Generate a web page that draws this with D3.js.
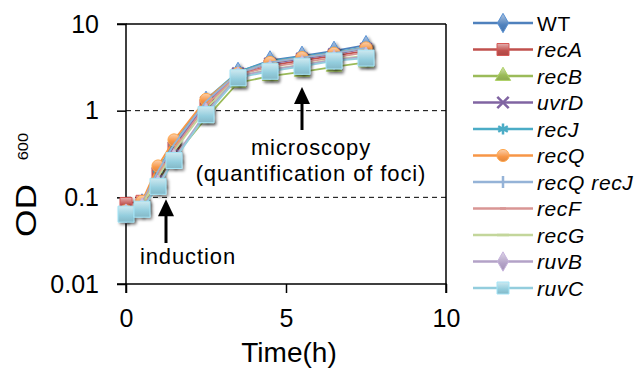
<!DOCTYPE html>
<meta charset="utf-8">
<style>
body { margin: 0; background: #fff; }
text { font-family: "Liberation Sans", Arial, sans-serif; fill: #000; }
.tick text { font-size: 25px; }
.leg { font-size: 21px; letter-spacing: 0.6px; }
.note { font-size: 22px; letter-spacing: 0.9px; }
</style>
<body>
<div id="chart"></div>
<script src="https://d3js.org/d3.v7.min.js"></script>
<script>
var times = [0, 0.5, 1, 1.5, 2.5, 3.5, 4.5, 5.5, 6.5, 7.5];
var names = ["WT", "recA", "recB", "uvrD", "recJ", "recQ", "recQ recJ", "recF", "recG", "ruvB", "ruvC"];
var colors = ["#4F81BD", "#C0504D", "#9BBB59", "#8064A2", "#4BACC6", "#F79646", "#95B3D7", "#D99694", "#C3D69B", "#B3A2C7", "#93CDDD"];
var markers = ["diamond", "square", "triangle", "x", "star", "circle", "plus", "dash", "longdash", "diamond", "square"];

var WT = [0.068, 0.085, 0.20, 0.40, 1.30, 2.8, 3.8, 4.3, 4.9, 5.7];
var recA = [0.085, 0.090, 0.19, 0.37, 1.15, 2.6, 3.3, 3.8, 4.3, 4.9];
var recB = [0.062, 0.076, 0.15, 0.29, 0.82, 2.1, 2.5, 2.8, 3.2, 3.6];
var uvrD = [0.067, 0.084, 0.19, 0.38, 1.25, 2.7, 3.5, 4.0, 4.5, 5.2];
var recJ = [0.068, 0.087, 0.21, 0.42, 1.35, 2.8, 3.7, 4.2, 4.7, 5.4];
var recQ = [0.070, 0.090, 0.23, 0.46, 1.35, 2.7, 3.6, 4.1, 4.6, 5.3];
var recQrecJ = [0.067, 0.086, 0.20, 0.41, 1.28, 2.7, 3.6, 4.1, 4.6, 5.3];
var recF = [0.070, 0.084, 0.18, 0.36, 1.15, 2.6, 3.2, 3.6, 4.1, 4.7];
var recG = [0.066, 0.082, 0.17, 0.34, 1.05, 2.5, 3.0, 3.4, 3.9, 4.3];
var ruvB = [0.065, 0.076, 0.14, 0.28, 0.95, 2.5, 2.95, 3.35, 3.85, 4.2];
var ruvC = [0.064, 0.073, 0.134, 0.266, 0.90, 2.4, 2.85, 3.25, 3.75, 4.05];
var seriesValues = [WT, recA, recB, uvrD, recJ, recQ, recQrecJ, recF, recG, ruvB, ruvC];

var yTicks = [0.01, 0.1, 1, 10];
var xTicks = [0, 5, 10];

var width = 639, height = 369;
var pLeft = 126, pRight = 446, pTop = 24, pBottom = 284;

var svg = d3.select("#chart").append("svg")
    .attr("width", width)
    .attr("height", height);

var defs = svg.append("defs");
var shadow = defs.append("filter").attr("id", "shadow")
    .attr("x", "-50%").attr("y", "-50%").attr("width", "200%").attr("height", "200%");
shadow.append("feDropShadow")
    .attr("dx", 2).attr("dy", 2).attr("stdDeviation", 1.6)
    .attr("flood-color", "#000").attr("flood-opacity", 0.45);

colors.forEach(function(c, i) {
  var g = defs.append("linearGradient").attr("id", "grad" + i)
      .attr("x1", 0).attr("y1", 0).attr("x2", 0).attr("y2", 1);
  g.append("stop").attr("offset", "0%").attr("stop-color", d3.interpolateRgb(c, "#fff")(0.55));
  g.append("stop").attr("offset", "60%").attr("stop-color", c);
  g.append("stop").attr("offset", "100%").attr("stop-color", d3.color(c).darker(0.3));
});

var x = d3.scaleLinear().domain([0, 10]).range([pLeft, pRight]);
var y = d3.scaleLog().domain([0.01, 10]).range([pBottom, pTop]);

// dashed gridlines
svg.append("g").selectAll("line")
  .data([0.1, 1]).enter().append("line")
    .attr("x1", pLeft).attr("x2", pRight)
    .attr("y1", function(d) { return y(d); })
    .attr("y2", function(d) { return y(d); })
    .attr("stroke", "#000").attr("stroke-width", 1)
    .attr("stroke-dasharray", "5,4");

// box: top and right
svg.append("line").attr("x1", pLeft).attr("x2", pRight).attr("y1", pTop).attr("y2", pTop)
    .attr("stroke", "#000").attr("stroke-width", 1.5);
svg.append("line").attr("x1", pRight).attr("x2", pRight).attr("y1", pTop).attr("y2", pBottom)
    .attr("stroke", "#000").attr("stroke-width", 1.5);

var yAxis = svg.append("g")
    .attr("transform", "translate(" + pLeft + ",0)")
    .call(d3.axisLeft(y).tickValues(yTicks).tickSize(9).tickPadding(18)
      .tickFormat(function(d) { return String(d); }));

var xAxis = svg.append("g")
    .attr("transform", "translate(0," + pBottom + ")")
    .call(d3.axisBottom(x).tickValues(xTicks).tickSize(9).tickPadding(16)
      .tickFormat(function(d) { return String(d); }));

[yAxis, xAxis].forEach(function(a) {
  a.select(".domain").attr("stroke-width", 1.5);
  a.selectAll(".tick line").attr("stroke-width", 1.5);
  a.selectAll(".tick text").attr("font-family", null).attr("font-size", null);
});
yAxis.select(".domain").attr("d", "M-9," + pTop + "H0V" + pBottom + "H-9");
xAxis.select(".domain").attr("d", "M" + pLeft + ",9V0H" + pRight + "V9");

// axis titles
svg.append("text")
    .attr("x", x(5) + 3).attr("y", 362)
    .attr("text-anchor", "middle")
    .style("font-size", "28px")
    .text("Time(h)");

var od = svg.append("text")
    .attr("transform", "translate(36,237) rotate(-90) scale(1.18,1)");
od.append("tspan").style("font-size", "30px").text("OD");
od.append("tspan").style("font-size", "14px").attr("dx", 20).attr("dy", -8).text("600");

// marker shapes
function markerPath(type, s) {
  switch (type) {
    case "diamond": return d3.symbol(d3.symbolDiamond, s * s * 0.75)();
    case "square": return d3.symbol(d3.symbolSquare, s * s)();
    case "triangle": return d3.symbol(d3.symbolTriangle, s * s * 0.7)();
    case "circle": return d3.symbol(d3.symbolCircle, s * s * 0.8)();
    case "x": return d3.symbol(d3.symbolX, s * s * 0.6)();
    case "star": return d3.symbol(d3.symbolAsterisk, s * s * 0.6)();
    case "plus": return "M0," + (-s / 2) + "V" + (s / 2);
    case "dash": return "M" + (-s / 4) + ",0H" + (s / 4);
    case "longdash": return "M" + (-s / 2) + ",0H" + (s / 2);
  }
}
function isStroke(type) {
  return type === "x" || type === "star" || type === "plus" || type === "dash" || type === "longdash";
}

var line = d3.line()
    .x(function(d) { return x(d.t); })
    .y(function(d) { return y(d.v); });

var series = names.map(function(n, i) {
  return {
    name: n, color: colors[i], marker: markers[i], idx: i,
    points: times.map(function(t, j) { return { t: t, v: seriesValues[i][j] }; })
  };
});

var sg = svg.append("g").selectAll("g.series")
  .data(series).enter().append("g").attr("class", "series");

sg.append("path")
    .attr("d", function(d) { return line(d.points); })
    .attr("fill", "none")
    .attr("stroke", function(d) { return d.color; })
    .attr("stroke-width", 1.8);

sg.each(function(s) {
  var size = s.name === "ruvC" ? 16 : 12;
  d3.select(this).selectAll("path.m")
    .data(s.points).enter().append("path")
      .attr("class", "m")
      .attr("transform", function(d) { return "translate(" + x(d.t) + "," + y(d.v) + ")"; })
      .attr("d", markerPath(s.marker, size))
      .attr("fill", isStroke(s.marker) ? "none" : "url(#grad" + s.idx + ")")
      .attr("stroke", isStroke(s.marker) ? s.color : d3.color(s.color).brighter(0.3))
      .attr("stroke-width", isStroke(s.marker) ? 2.2 : 1)
      .attr("filter", "url(#shadow)");
});

// annotations
function arrow(cx, tipY, baseY) {
  svg.append("line").attr("x1", cx).attr("x2", cx).attr("y1", tipY + 14).attr("y2", baseY)
      .attr("stroke", "#000").attr("stroke-width", 3);
  svg.append("path")
      .attr("d", "M" + cx + "," + tipY + "L" + (cx - 8) + "," + (tipY + 17) + "L" + (cx + 8) + "," + (tipY + 17) + "Z")
      .attr("fill", "#000");
}
arrow(x(1.25), y(0.1) + 2, 243);
arrow(x(5.5), 87, 130);

svg.append("text").attr("class", "note").attr("x", 188).attr("y", 264)
    .attr("text-anchor", "middle").text("induction");
svg.append("text").attr("class", "note").attr("x", 311).attr("y", 155)
    .attr("text-anchor", "middle").text("microscopy");
svg.append("text").attr("class", "note").attr("x", 311).attr("y", 181)
    .attr("text-anchor", "middle").text("(quantification of foci)");

// legend
var lg = svg.append("g").selectAll("g.legend")
  .data(series).enter().append("g")
    .attr("class", "legend")
    .attr("transform", function(d, i) { return "translate(0," + (23 + i * 26.5) + ")"; });

lg.append("line")
    .attr("x1", 473).attr("x2", 533)
    .attr("stroke", function(d) { return d.color; })
    .attr("stroke-width", 2.5);
lg.append("path")
    .attr("transform", "translate(503,0)")
    .attr("d", function(d) { return markerPath(d.marker, 12); })
    .attr("fill", function(d) { return isStroke(d.marker) ? "none" : "url(#grad" + d.idx + ")"; })
    .attr("stroke", function(d) { return isStroke(d.marker) ? d.color : d3.color(d.color).brighter(0.3); })
    .attr("stroke-width", function(d) { return isStroke(d.marker) ? 2.5 : 1; });
lg.append("text")
    .attr("class", "leg")
    .attr("x", 537).attr("dy", "0.36em")
    .style("font-style", function(d) { return d.name === "WT" ? "normal" : "italic"; })
    .text(function(d) { return d.name; });
</script>
</body>
